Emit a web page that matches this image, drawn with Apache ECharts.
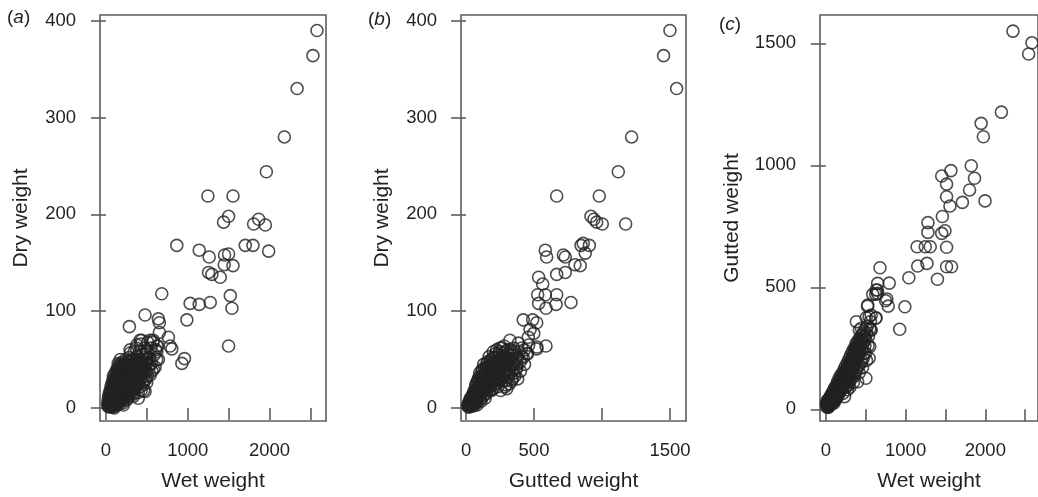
<!DOCTYPE html>
<html>
<head>
<meta charset="utf-8">
<script src="https://cdn.jsdelivr.net/npm/echarts@6/dist/echarts.min.js"></script>
<style>
  html, body { margin: 0; padding: 0; background: #fff; }
  #chart { width: 1038px; height: 497px; }
</style>
</head>
<body>
<div id="chart"></div>
<script>
// (a) wet weight vs dry weight
const wetDryPoints = [
  [2580,390],[2530,364],[2337,330],[2181,280],[1961,244],[1246,219],[1553,219],
  [1499,198],[1438,192],[1805,190],[1867,195],[1949,189],[1703,168],[1797,168],
  [1989,162],[866,168],[1140,163],[1262,156],[1450,158],[1499,159],[1446,148],
  [1553,147],[1254,140],[1295,138],[1397,135],[682,118],[1520,116],[1029,108],
  [1140,107],[1275,109],[1540,103],[989,91],[478,96],[286,84],[641,92],[653,88],
  [653,78],[763,73],[784,64],[805,61],[1499,64],[960,51],[928,46],
  [539,70],[417,70],[621,58],[578,70],[621,64],[641,50],[580,40],[498,26],[478,17],
  [335,12],[212,3],[100,0],[90,33],[150,46],[175,50],[294,60],[376,65],[437,70],
  [25,2],[30,4],[35,1],[40,6],[45,3],[50,8],[55,5],[60,2],[60,10],[65,7],[70,4],
  [70,13],[75,9],[80,1],[80,16],[85,6],[90,11],[90,20],[95,3],[100,14],[100,8],
  [105,18],[110,5],[110,25],[115,12],[120,30],[120,9],[125,20],[130,3],[130,15],
  [135,35],[140,24],[140,10],[145,42],[150,18],[150,6],[155,28],[160,38],[160,13],
  [165,22],[170,45],[170,8],[175,32],[180,17],[180,26],[185,40],[190,12],[190,35],
  [195,22],[200,47],[200,30],[200,5],[205,16],[210,38],[215,25],[220,10],[220,44],
  [225,30],[230,20],[235,50],[235,35],[240,14],[245,27],[250,42],[250,8],[255,33],
  [260,22],[260,48],[265,16],[270,38],[275,28],[280,52],[280,12],[285,34],[290,21],
  [295,44],[300,30],[300,57],[305,18],[310,40],[315,25],[320,50],[325,34],[330,14],
  [335,45],[340,28],[345,58],[350,38],[355,20],[360,48],[365,32],[370,62],[375,42],
  [380,24],[385,53],[390,36],[395,16],[400,46],[405,30],[410,58],[415,40],[420,22],
  [425,66],[430,50],[440,35],[445,26],[450,56],[455,44],[460,18],[470,38],[475,62],
  [480,50],[490,30],[495,45],[505,58],[510,68],[520,40],[530,52],[540,34],[550,62],
  [560,46],[575,68],[590,55],[600,42],[610,60],[620,50],[635,64],
  [20,5],[28,9],[33,12],[38,3],[42,15],[48,10],[52,18],[57,12],[62,22],[66,15],
  [68,1],[72,25],[77,19],[82,11],[84,28],[88,23],[92,15],[96,30],[98,25],[103,2],
  [106,22],[108,35],[112,16],[114,28],[118,20],[122,38],[124,14],[127,26],[132,32],
  [134,7],[137,18],[142,29],[144,39],[147,12],[152,24],[154,35],[157,4],[162,30],
  [164,18],[167,41],[172,26],[174,13],[177,36],[182,22],[184,44],[187,7],[192,29],
  [194,18],[197,40],[202,25],[204,12],[207,34],[212,44],[214,20],[217,30],[222,16],
  [224,38],[227,24],[232,42],[234,12],[237,30],[242,21],[244,46],[247,36],[252,17],
  [254,27],[257,40],[262,31],[264,10],[267,45],[272,24],[274,19],[277,36],[282,27],
  [284,42],[287,15],[292,33],[294,25],[297,48],[302,38],[304,22],[307,30],[312,45],
  [314,15],[317,35],[322,28],[324,41],[327,20],[332,38],[336,25],[338,50],[342,33],
  [346,19],[348,43],[352,28],[358,36],[362,24],[366,41],[372,30],[378,50],[382,35],
  [388,28],[392,45],[398,38],[402,25],[408,50],[412,33],[418,45],[422,30],[428,40],
  [435,55],[442,45],[448,32],[452,48],[458,38],[465,52],[468,28],[478,42],[485,55],
  [492,38],[500,50],[430,18],[505,33],[535,45],[560,38],[395,10],[455,24]
];

// (b) gutted weight vs dry weight
const guttedDryPoints = [
  [1500,390],[1453,364],[1549,330],[1218,280],[1120,244],[667,219],[980,219],
  [919,198],[941,195],[961,192],[1002,190],[1174,190],[846,168],[862,170],[877,160],
  [907,168],[583,163],[593,156],[716,158],[730,156],[667,138],[730,140],[801,148],
  [840,147],[534,135],[564,128],[527,117],[583,117],[667,117],[534,108],[588,103],
  [662,107],[772,109],[421,91],[490,91],[520,88],[471,81],[458,73],[498,77],
  [588,64],[522,63],[520,61],[446,56],[461,65],[323,70],[385,67],[409,62],
  [360,33],[287,22],[372,45],[409,53],[454,56],
  [15,2],[20,5],[25,1],[30,8],[35,4],[40,11],[45,6],[50,2],[50,14],[55,9],[60,18],
  [60,5],[65,12],[70,22],[70,8],[75,15],[80,26],[80,3],[85,19],[90,10],[90,30],
  [95,23],[100,14],[100,36],[105,27],[110,18],[110,7],[115,32],[120,22],[120,40],
  [125,12],[130,28],[130,45],[135,19],[140,35],[140,10],[145,25],[150,42],[150,15],
  [155,32],[160,48],[160,22],[165,38],[170,27],[170,53],[175,18],[180,44],[180,33],
  [185,24],[190,50],[190,38],[195,29],[200,58],[200,20],[205,44],[210,34],[215,52],
  [215,25],[220,40],[225,60],[230,30],[230,48],[235,22],[240,55],[240,38],[245,45],
  [250,30],[250,62],[255,18],[260,50],[265,40],[270,57],[270,28],[275,46],[280,64],
  [285,35],[290,52],[295,24],[300,44],[305,60],[310,32],[315,50],[320,40],[330,55],
  [335,28],[340,46],[350,62],[355,36],[365,50],[375,42],[390,58],[400,48],[420,52],
  [430,60],
  [12,3],[18,1],[22,6],[28,3],[32,10],[38,7],[42,2],[47,12],[52,8],[57,15],[62,11],
  [64,3],[67,17],[72,13],[74,25],[77,6],[82,18],[84,12],[87,28],[92,21],[94,15],
  [97,32],[102,20],[104,9],[107,30],[112,24],[114,14],[117,38],[122,28],[124,18],
  [127,35],[132,22],[134,40],[137,14],[142,30],[144,20],[147,38],[152,26],[154,46],
  [157,18],[162,34],[164,28],[167,44],[172,36],[174,22],[177,48],[182,30],[184,40],
  [187,18],[192,44],[194,33],[197,52],[202,38],[204,28],[207,48],[212,42],[214,30],
  [217,56],[222,35],[224,45],[227,25],[232,52],[234,40],[237,32],[242,48],[244,28],
  [247,58],[252,42],[254,35],[257,52],[262,45],[264,30],[267,62],[272,50],[274,38],
  [277,34],[282,54],[284,44],[287,28],[292,58],[294,48],[297,38],[302,52],[308,45],
  [312,56],[318,35],[322,50],[328,44],[332,60],[338,38],[345,54],[352,45],[360,58],
  [368,40],[380,52],[320,25],[340,30],[400,38],[430,45],[300,20],[380,30]
];

// (c) wet weight vs gutted weight
const wetGuttedPoints = [
  [2346,1550],[2584,1502],[2543,1456],[2201,1218],[1947,1172],[1975,1117],
  [1823,998],[1864,947],[1802,899],[1712,848],[1996,854],[1568,978],[1453,956],
  [1514,923],[1514,871],[1556,833],[1461,790],[1280,765],[1280,725],[1453,721],
  [1494,732],[1144,666],[1247,666],[1309,666],[1514,664],[1152,587],[1268,598],
  [1514,584],[1576,584],[1399,533],[1041,539],[679,580],[795,517],[650,516],
  [991,420],[926,328],[782,423],[765,452],[630,489],[589,471],[650,475],[527,427],
  [568,386],[506,375],[630,375],[383,359],[445,332],[568,325],[625,373],[543,380],
  [420,325],[564,325],[522,423],[626,472],[646,489],[749,445],[543,209],[551,257],
  [502,127],[399,113],[235,52],[8,25],
  [20,15],[25,30],[30,8],[35,22],[40,40],[45,15],[50,30],[55,50],[60,20],[65,38],
  [70,60],[75,28],[80,45],[85,70],[90,35],[95,55],[100,80],[100,25],[105,45],
  [110,65],[115,90],[120,38],[125,58],[130,78],[135,100],[140,50],[145,70],[150,92],
  [150,115],[155,60],[160,82],[165,105],[170,130],[175,72],[180,95],[185,118],
  [190,140],[195,85],[200,108],[205,128],[210,150],[215,95],[220,118],[225,140],
  [230,165],[235,105],[240,130],[245,155],[250,178],[255,118],[260,142],[265,165],
  [270,190],[275,130],[280,155],[285,178],[290,205],[295,145],[300,168],[305,192],
  [310,220],[315,160],[320,182],[325,208],[330,235],[340,175],[345,198],[350,225],
  [355,250],[360,190],[370,215],[375,240],[380,270],[390,205],[395,230],[400,258],
  [410,285],[415,225],[425,250],[430,275],[440,300],[450,240],[460,265],[470,295],
  [480,320],[490,260],[500,285],[510,310],[520,340],[535,300],[550,330],[560,360],
  [300,120],[330,140],[360,150],[280,100],[250,90],[400,170],[450,200],[480,230],
  [12,10],[15,22],[18,35],[22,18],[28,40],[32,25],[38,12],[42,30],[48,45],[52,20],
  [58,35],[62,55],[68,42],[72,25],[78,58],[82,32],[88,50],[92,68],[98,40],[102,60],
  [108,35],[112,78],[118,52],[122,70],[128,45],[132,92],[138,62],[142,80],[148,55],
  [152,100],[158,75],[162,92],[168,65],[172,112],[178,85],[182,105],[188,78],
  [192,125],[198,95],[202,118],[208,88],[212,138],[218,105],[222,128],[228,98],
  [232,150],[238,118],[242,140],[248,110],[252,160],[258,132],[262,152],[268,122],
  [272,172],[278,142],[282,165],[288,135],[292,185],[298,155],[302,178],[308,145],
  [312,198],[318,170],[322,190],[328,160],[332,212],[338,185],[342,205],[348,172],
  [352,235],[358,205],[362,225],[368,195],[372,250],[378,220],[385,245],[392,215],
  [398,272],[405,240],[412,262],[420,235],[428,290],[435,262],[442,285],[455,280],
  [465,310],[475,275],[490,300],[505,330],
  [260,95],[290,110],[320,125],[350,135],[380,160],[410,180],[440,190],[470,210],
  [500,230],[530,260],[345,110],[420,150],[300,90],[270,80],[215,65],[370,185],
  [460,170],[510,200]
];

// tick positions and the subset that carries a label
const wetTicks = [0, 500, 1000, 1500, 2000, 2500];
const wetLabels = [0, 1000, 2000];
const guttedTicksX = [0, 500, 1000, 1500];
const guttedLabelsX = [0, 500, 1500];
const dryTicks = [0, 100, 200, 300, 400];
const guttedTicksY = [0, 500, 1000, 1500];

const FONT = "'Liberation Sans', Arial, Helvetica, sans-serif";
const TEXT = '#231f20';
const LINE = '#5c5c5c';
const plain = v => String(v);

function xAxisFor(grid, min, max, ticks, labels, name) {
  return {
    type: 'value', gridIndex: grid, min: min, max: max, offset: 2,
    name: name, nameLocation: 'middle', nameGap: 48,
    nameTextStyle: { fontFamily: FONT, fontSize: 21, color: TEXT },
    axisLine: { show: false },
    axisTick: { show: true, length: 12, customValues: ticks,
      lineStyle: { color: LINE, width: 1.6 } },
    axisLabel: { customValues: labels, margin: 18, formatter: plain,
      fontFamily: FONT, fontSize: 18.5, color: TEXT },
    splitLine: { show: false }
  };
}

function yAxisFor(grid, min, max, ticks, name, gap) {
  return {
    type: 'value', gridIndex: grid, min: min, max: max,
    name: name, nameLocation: 'middle', nameGap: gap,
    nameTextStyle: { fontFamily: FONT, fontSize: 21, color: TEXT },
    axisLine: { show: false },
    axisTick: { show: true, length: 15, customValues: ticks,
      lineStyle: { color: LINE, width: 1.6 } },
    axisLabel: { customValues: ticks, margin: 24, formatter: plain,
      fontFamily: FONT, fontSize: 18.5, color: TEXT },
    splitLine: { show: false }
  };
}

function scatterFor(idx, points) {
  return {
    type: 'scatter', xAxisIndex: idx, yAxisIndex: idx,
    data: points, symbol: 'circle', symbolSize: 12, clip: false, silent: true,
    itemStyle: { color: 'rgba(0,0,0,0)', borderColor: '#222', borderWidth: 1.6 }
  };
}

function panelTag(letter, left, top) {
  return {
    type: 'text', left: left, top: top, silent: true,
    style: {
      text: '{n|(}{i|' + letter + '}{n|)}',
      rich: {
        n: { fontFamily: FONT, fontSize: 19, fill: TEXT },
        i: { fontFamily: FONT, fontSize: 19, fontStyle: 'italic', fill: TEXT }
      }
    }
  };
}

const chart = echarts.init(document.getElementById('chart'));
const border = { show: true, borderColor: LINE, borderWidth: 1.6, backgroundColor: 'transparent' };

chart.setOption({
  animation: false,
  backgroundColor: '#fff',
  grid: [
    Object.assign({ left: 100, top: 15, width: 226, height: 406 }, border),
    Object.assign({ left: 461, top: 15, width: 225, height: 406 }, border),
    Object.assign({ left: 820, top: 15, width: 224, height: 406 }, border)
  ],
  xAxis: [
    xAxisFor(0, -73, 2690, wetTicks, wetLabels, 'Wet weight'),
    xAxisFor(1, -37, 1618, guttedTicksX, guttedLabelsX, 'Gutted weight'),
    xAxisFor(2, -73, 2660, wetTicks, wetLabels, 'Wet weight')
  ],
  yAxis: [
    yAxisFor(0, -13.5, 406, dryTicks, 'Dry weight', 68),
    yAxisFor(1, -13.5, 406, dryTicks, 'Dry weight', 68.5),
    yAxisFor(2, -48, 1616, guttedTicksY, 'Gutted weight', 77.5)
  ],
  series: [
    scatterFor(0, wetDryPoints),
    scatterFor(1, guttedDryPoints),
    scatterFor(2, wetGuttedPoints)
  ],
  graphic: [
    panelTag('a', 7, 8),
    panelTag('b', 368, 10),
    panelTag('c', 719, 15)
  ]
});
</script>
</body>
</html>
